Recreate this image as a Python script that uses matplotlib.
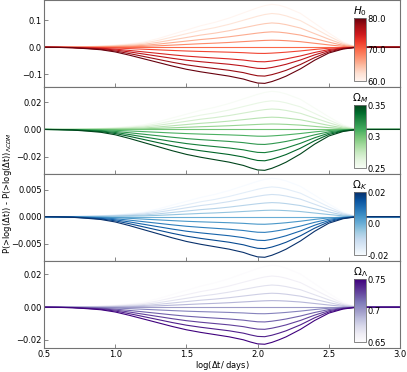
import numpy as np
import matplotlib
matplotlib.use('Agg')
import matplotlib.pyplot as plt
from matplotlib import cm, colors

# log(dt/days) grid
x = [0.5, 0.6, 0.7, 0.8, 0.9, 1.0, 1.1, 1.2, 1.3, 1.4, 1.5, 1.6, 1.7, 1.8, 1.9,
     1.95, 2.0, 2.05, 2.1, 2.15, 2.2, 2.3, 2.4, 2.5, 2.6, 2.7, 2.8, 2.9, 3.0]
# normalised profiles
shape_neg = [0, 0.005, 0.015, 0.04, 0.07, 0.13, 0.22, 0.32, 0.42, 0.52, 0.61, 0.68, 0.74, 0.8, 0.88,
             0.94, 0.99, 1.0, 0.95, 0.88, 0.8, 0.6, 0.36, 0.16, 0.05, 0.0, 0, 0, 0]
shape_pos = [0, 0.002, 0.005, 0.015, 0.03, 0.05, 0.08, 0.12, 0.2, 0.3, 0.4, 0.5, 0.58, 0.68, 0.8,
             0.86, 0.92, 0.97, 1.0, 0.98, 0.93, 0.79, 0.56, 0.33, 0.12, 0.0, 0, 0, 0]

H0 = [60, 62, 64, 66, 68, 70, 72, 74, 76, 78, 80]
amp_H0 = [0.159, 0.125, 0.09, 0.057, 0.026, 0, -0.023, -0.054, -0.079, -0.107, -0.134]
OmM = [0.25, 0.26, 0.27, 0.28, 0.29, 0.30, 0.31, 0.32, 0.33, 0.34, 0.35]
amp_OmM = [0.028, 0.021, 0.015, 0.009, 0.004, 0, -0.005, -0.011, -0.017, -0.023, -0.030]
OmK = [-0.02, -0.016, -0.012, -0.008, -0.004, 0.0, 0.004, 0.008, 0.012, 0.016, 0.02]
amp_OmK = [0.0071, 0.0055, 0.0041, 0.0026, 0.0012, 0, -0.0014, -0.0029, -0.0044, -0.0059, -0.0075]
OmL = [0.65, 0.66, 0.67, 0.68, 0.69, 0.70, 0.71, 0.72, 0.73, 0.74, 0.75]
amp_OmL = [0.0256, 0.019, 0.0135, 0.0085, 0.004, 0, -0.004, -0.009, -0.0135, -0.018, -0.0226]

panels = [
    (H0, amp_H0, 'Reds', r'$H_0$', [60, 70, 80], ['60.0', '70.0', '80.0'], [-0.1, 0.0, 0.1]),
    (OmM, amp_OmM, 'Greens', r'$\Omega_M$', [0.25, 0.3, 0.35], ['0.25', '0.3', '0.35'], [-0.02, 0.0, 0.02]),
    (OmK, amp_OmK, 'Blues', r'$\Omega_K$', [-0.02, 0.0, 0.02], ['-0.02', '0.0', '0.02'], [-0.005, 0.0, 0.005]),
    (OmL, amp_OmL, 'Purples', r'$\Omega_\Lambda$', [0.65, 0.7, 0.75], ['0.65', '0.7', '0.75'], [-0.02, 0.0, 0.02]),
]

plt.rcParams['font.size'] = 6
plt.rcParams['axes.edgecolor'] = '0.45'
plt.rcParams['xtick.color'] = '0.45'
plt.rcParams['ytick.color'] = '0.45'
plt.rcParams['xtick.labelcolor'] = 'black'
plt.rcParams['ytick.labelcolor'] = 'black'

fig, axes = plt.subplots(4, 1, sharex=True, figsize=(4.07, 3.72), dpi=100)
fig.subplots_adjust(left=0.108, right=0.983, top=0.999, bottom=0.064, hspace=0)

xa = np.array(x)
for ax, (vals, amps, cname, title, cticks, clabels, yticks) in zip(axes, panels):
    cmap = plt.get_cmap(cname)
    norm = colors.Normalize(vmin=min(vals), vmax=max(vals))
    for v, a in zip(vals, amps):
        prof = np.array(shape_pos) if a > 0 else np.array(shape_neg)
        ax.plot(xa, a * prof, color=cmap(norm(v)), lw=0.8)
    ax.set_xlim(0.5, 3.0)
    ax.set_yticks(yticks)
    ax.tick_params(direction='in', length=3, width=0.6, labelsize=6, pad=1.5)
    for s in ax.spines.values():
        s.set_linewidth(0.8)
    cax = ax.inset_axes([0.871, 0.07, 0.033, 0.725])
    cb = fig.colorbar(cm.ScalarMappable(norm=norm, cmap=cmap), cax=cax)
    cb.set_ticks(cticks)
    cb.set_ticklabels(clabels)
    cb.outline.set_linewidth(0.6)
    cax.tick_params(length=0, pad=1, labelsize=6)
    cax.set_title(title, fontsize=7.5, pad=1)

axes[-1].set_xticks([0.5, 1.0, 1.5, 2.0, 2.5, 3.0])
axes[-1].set_xlabel(r'log($\Delta$t/ days)', fontsize=6, labelpad=0)
fig.text(0.018, 0.48, r'P(>log($\Delta$t)) - P(>log($\Delta$t))$_{\Lambda CDM}$',
         rotation=90, va='center', ha='center', fontsize=6)

fig.savefig('out.png', dpi=100)
